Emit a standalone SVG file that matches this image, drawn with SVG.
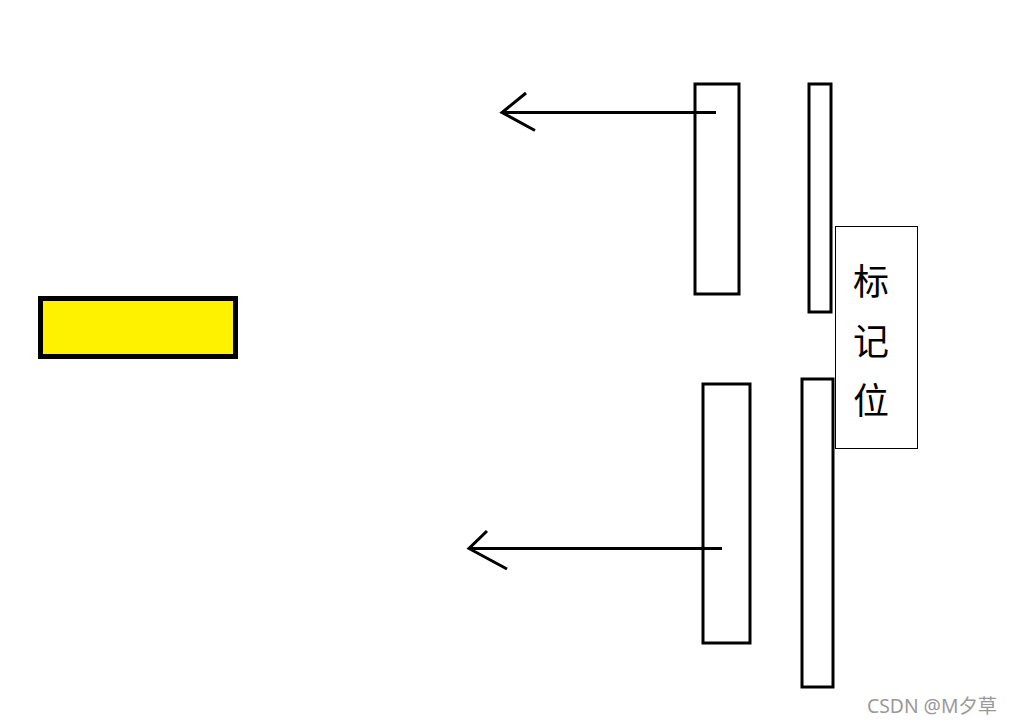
<svg xmlns="http://www.w3.org/2000/svg" width="1011" height="724" viewBox="0 0 1011 724">
<style>
.bar{fill:#fff;stroke:#000;stroke-width:3}
.conn{fill:none;stroke:#000;stroke-width:3;stroke-linecap:butt;stroke-linejoin:miter}
.lbl{font-family:"Noto Sans CJK SC","Liberation Sans",sans-serif;font-size:36px;fill:#000;text-anchor:middle}
</style>
<rect width="1011" height="724" fill="#fff"/>
<g id="yellow-block"><rect x="40.5" y="298.5" width="195" height="58" fill="#fff200" stroke="#000" stroke-width="5"/></g>
<g id="bar-top-left"><rect class="bar" x="695" y="84" width="44" height="210"/></g>
<g id="bar-top-right"><rect class="bar" x="809" y="84" width="22" height="228"/></g>
<g id="bar-bottom-left"><rect class="bar" x="703" y="384" width="47" height="259"/></g>
<g id="bar-bottom-right"><rect class="bar" x="802" y="379" width="31" height="308"/></g>
<g id="label-box">
<rect x="835.5" y="226.5" width="82" height="222" fill="#fff" stroke="#000" stroke-width="1"/>
<text class="lbl" x="871" y="295">标</text>
<text class="lbl" x="871" y="355">记</text>
<text class="lbl" x="871" y="414">位</text>
</g>
<g id="connectors">
<path class="conn" d="M716 112.5H502M526 93L502 112.5L535 130.5"/>
<path class="conn" d="M722 548.5H469M487 531L469 548.5L507 569"/>
</g>
<text x="997" y="713" font-family="Noto Sans,Noto Sans CJK SC,sans-serif" font-size="19.3" fill="#999" text-anchor="end">CSDN @M夕草</text>
</svg>
